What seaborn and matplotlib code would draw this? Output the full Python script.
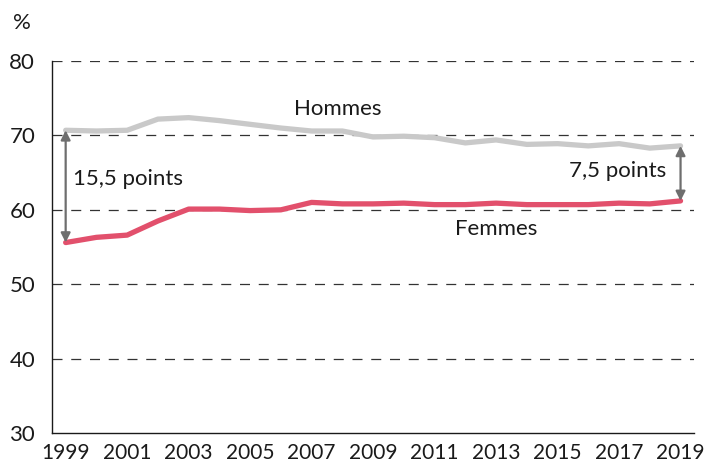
import numpy as np
import pandas as pd
import matplotlib.pyplot as plt
import seaborn as sns

# --- data ---
years = list(range(1999, 2020))
hommes = [70.7, 70.6, 70.7, 72.2, 72.4, 72.0, 71.5, 71.0, 70.6, 70.6, 69.8,
          69.9, 69.7, 69.0, 69.4, 68.8, 68.9, 68.6, 68.9, 68.3, 68.6]
femmes = [55.6, 56.3, 56.6, 58.5, 60.1, 60.1, 59.9, 60.0, 61.0, 60.8, 60.8,
          60.9, 60.7, 60.7, 60.9, 60.7, 60.7, 60.7, 60.9, 60.8, 61.2]
yticks = [30, 40, 50, 60, 70, 80]
xlabels = list(range(1999, 2020, 2))

df = pd.DataFrame({'annee': years * 2,
                   'taux': hommes + femmes,
                   'sexe': ['Hommes'] * len(years) + ['Femmes'] * len(years)})

sns.set_style('white')
plt.rcParams['font.family'] = ['Lato', 'DejaVu Sans']

fs = 16
txt = '#1a1a1a'

fig = plt.figure(figsize=(7.1, 4.63), dpi=100)
ax = fig.add_axes([0.073, 0.065, 0.905, 0.803])

sns.lineplot(data=df, x='annee', y='taux', hue='sexe',
             palette={'Hommes': '#c9c9c9', 'Femmes': '#e2506c'},
             linewidth=3.8, legend=False, ax=ax)

ax.set_ylim(30, 80)
ax.set_xlim(1998.55, 2019.45)
ax.set_yticks(yticks)
ax.set_xticks(xlabels)
ax.set_xticks(years, minor=True)
ax.tick_params(axis='both', labelsize=fs, colors=txt, length=6, width=1)
ax.tick_params(axis='x', which='minor', length=6, width=1, color=txt)
ax.tick_params(axis='x', labelsize=15, pad=1)
ax.tick_params(axis='y', length=4, pad=8)
ax.set_xlabel('')
ax.set_ylabel('')
for yv in yticks[1:]:
    ax.axhline(yv, color='#333333', linestyle=(0, (8, 7)), linewidth=0.9, zorder=0)

for s in ['top', 'right']:
    ax.spines[s].set_visible(False)
for s in ['left', 'bottom']:
    ax.spines[s].set_color(txt)
    ax.spines[s].set_linewidth(1)

# double arrows showing the gap
arrow = dict(arrowstyle='<|-|>', color='#6e6e6e', lw=1.6, mutation_scale=14, shrinkA=0, shrinkB=0)
ax.annotate('', xy=(years[0], femmes[0]), xytext=(years[0], hommes[0]), arrowprops=arrow)
ax.annotate('', xy=(years[-1], femmes[-1]), xytext=(years[-1], hommes[-1]), arrowprops=arrow)

ax.text(1999.25, 64.2, '15,5 points', fontsize=fs, color=txt, va='center', ha='left')
ax.text(2018.55, 65.2, '7,5 points', fontsize=fs, color=txt, va='center', ha='right')
ax.text(2007.85, 73.5, 'Hommes', fontsize=fs, color=txt, va='center', ha='center')
ax.text(2013.0, 57.4, 'Femmes', fontsize=fs, color=txt, va='center', ha='center')

fig.text(0.031, 0.950, '%', fontsize=fs, color=txt, ha='center', va='center')

plt.savefig('out.png', dpi=100)
